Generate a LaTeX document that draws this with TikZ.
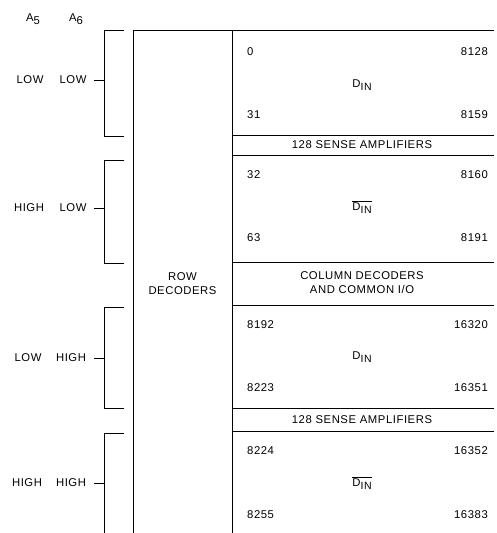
\documentclass[tikz,border=0pt]{standalone}
\usepackage{fontspec}
\setmainfont{Liberation Sans}[LetterSpace=5]
\newcommand{\sbs}[1]{\raisebox{-3.4pt}{#1}}
\newcommand{\din}{D\sbs{\fontsize{10.5}{11}\selectfont IN}}
\newcommand{\dinbar}{$\overline{\mbox{\din}}$}
\begin{document}
\begin{tikzpicture}[x=1pt,y=-1pt,
  every node/.style={inner sep=0pt,font=\fontsize{11.3}{14}\selectfont},
  ln/.style={line width=1pt,black},
  lbl/.style={anchor=west},
  rbl/.style={anchor=east}]
\useasboundingbox (0,0) rectangle (496,533);
% row decoder column and top line
\draw[ln] (133,533) -- (133,30) -- (494,30);
\draw[ln] (232,30) -- (232,533);
% array horizontal lines
\foreach \yy in {135,155,262,305,408,431}
  \draw[ln] (232,\yy) -- (494,\yy);
% brackets
\foreach \ya/\yb/\ym in {30/136/80,160/263/208,307/408/358,433/540/483}{
  \draw[ln] (124,\ya) -- (104,\ya) -- (104,\yb) -- (124,\yb);
  \draw[ln] (94,\ym) -- (104,\ym);
}
% header
\node (a5) at (33,19) {A\sbs{5}};
\node (a6) at (76,19) {A\sbs{6}};
% state labels
\node (s1a) at (30,80) {LOW};  \node (s1b) at (73,80) {LOW};
\node (s2a) at (29,208) {HIGH}; \node (s2b) at (73,208) {LOW};
\node (s3a) at (28,358) {LOW};  \node (s3b) at (71,358) {HIGH};
\node (s4a) at (27,483) {HIGH}; \node (s4b) at (71,483) {HIGH};
% row decoders
\node[align=center] (rd) at (182.5,284) {ROW\\DECODERS};
% block 1
\node[lbl] (n0) at (247,52) {0};     \node[rbl] (n8128) at (488,52) {8128};
\node (d1) at (362,85) {\din};
\node[lbl] (n31) at (247,115) {31};  \node[rbl] (n8159) at (488,115) {8159};
\node (sa1) at (362,145) {128 SENSE AMPLIFIERS};
% block 2
\node[lbl] (n32) at (247,175) {32};  \node[rbl] (n8160) at (488,175) {8160};
\node (d2) at (362,207) {\dinbar};
\node[lbl] (n63) at (247,238) {63};  \node[rbl] (n8191) at (488,238) {8191};
\node[align=center] (cd) at (362,283) {COLUMN DECODERS\\AND COMMON I/O};
% block 3
\node[lbl] (n8192) at (247,325) {8192};  \node[rbl] (n16320) at (488,325) {16320};
\node (d3) at (362,357) {\din};
\node[lbl] (n8223) at (247,388) {8223};  \node[rbl] (n16351) at (488,388) {16351};
\node (sa2) at (362,420) {128 SENSE AMPLIFIERS};
% block 4
\node[lbl] (n8224) at (247,451) {8224};  \node[rbl] (n16352) at (488,451) {16352};
\node (d4) at (362,483) {\dinbar};
\node[lbl] (n8255) at (247,515) {8255};  \node[rbl] (n16383) at (488,515) {16383};
\end{tikzpicture}
\end{document}
